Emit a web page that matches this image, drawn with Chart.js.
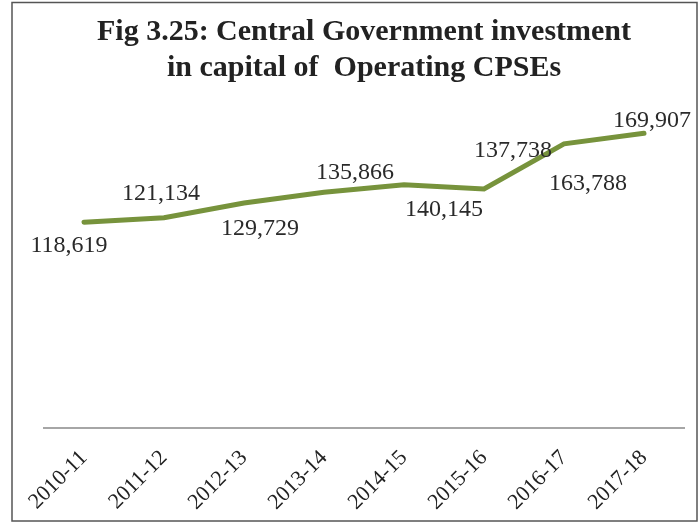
<!DOCTYPE html>
<html>
<head>
<meta charset="utf-8">
<script src="https://cdn.jsdelivr.net/npm/chart.js@4.4.1/dist/chart.umd.min.js"></script>
<style>
  html, body { margin: 0; padding: 0; background: #fff; }
  #wrap { width: 700px; height: 525px; }
</style>
</head>
<body>
<div id="wrap"><canvas id="investChart" width="700" height="525"></canvas></div>
<script>
// Central Government investment in capital of operating CPSEs (Rs crore)
const years = ["2010-11", "2011-12", "2012-13", "2013-14", "2014-15", "2015-16", "2016-17", "2017-18"];
const investment = [118619, 121134, 129729, 135866, 140145, 137738, 163788, 169907];

// where each value label sits relative to its point (dx, dy in px)
const labelShift = [[-15, 24], [-3, -24], [16, 26], [31, -20], [40, 25], [29, -38], [24, 40], [8, -13]];

const serif = "'Liberation Serif', 'DejaVu Serif', serif";

// outer frame around the whole figure
const framePlugin = {
    id: "frame",
    afterDraw(chart) {
        const ctx = chart.ctx;
        ctx.save();
        ctx.strokeStyle = "#555";
        ctx.lineWidth = 1.5;
        ctx.strokeRect(12, 2.5, 685, 518.5);
        ctx.restore();
    },
};

// value labels next to each point
const valueLabels = {
    id: "valueLabels",
    afterDatasetsDraw(chart) {
        const ctx = chart.ctx;
        const meta = chart.getDatasetMeta(0);
        ctx.save();
        ctx.font = "24px " + serif;
        ctx.fillStyle = "#2a2a2a";
        ctx.textAlign = "center";
        ctx.textBaseline = "middle";
        meta.data.forEach((pt, i) => {
            const [dx, dy] = labelShift[i];
            ctx.fillText(investment[i].toLocaleString("en-US"), pt.x + dx, pt.y + dy);
        });
        ctx.restore();
    },
};

new Chart(document.getElementById("investChart"), {
    type: "line",
    data: {
        labels: years,
        datasets: [{
            data: investment,
            borderColor: "#77933c",
            borderWidth: 5,
            pointRadius: 0,
            tension: 0,
            borderCapStyle: "round",
        }],
    },
    options: {
        responsive: false,
        animation: false,
        layout: { padding: { top: 7, left: 44, right: 16, bottom: 0 } },
        plugins: {
            legend: { display: false },
            tooltip: { enabled: false },
            title: {
                display: true,
                text: ["Fig 3.25: Central Government investment", "in capital of  Operating CPSEs"],
                color: "#222",
                font: { family: serif, size: 30, weight: "bold", lineHeight: 1.2 },
                padding: { top: 7, bottom: -5 },
            },
        },
        scales: {
            x: {
                offset: true,
                grid: { display: false, drawTicks: false },
                border: { display: true, color: "#a6a6a6", width: 2 },
                ticks: {
                    color: "#222",
                    font: { family: serif, size: 22 },
                    minRotation: 45,
                    maxRotation: 45,
                    padding: 17,
                },
                // fixed band below the axis for the slanted year labels
                afterFit(scale) {
                    scale.height = 97;
                },
            },
            y: {
                display: false,
                min: 0,
                max: 200000,
            },
        },
    },
    plugins: [framePlugin, valueLabels],
});
</script>
</body>
</html>
